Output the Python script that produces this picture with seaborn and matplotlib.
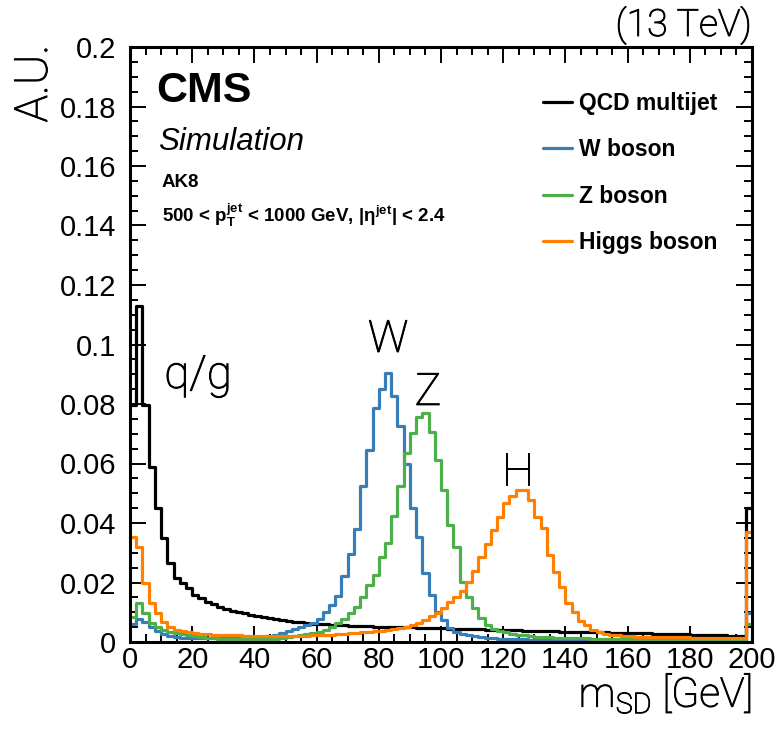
import numpy as np
import pandas as pd
import matplotlib
matplotlib.use("Agg")
import matplotlib.pyplot as plt
import matplotlib.patheffects as pe
import seaborn as sns
from matplotlib.ticker import MultipleLocator, FuncFormatter

# ---------------- data (2 GeV bins, 0..200 GeV) ----------------
bin_edges = list(range(0, 202, 2))

qcd = [0.0797, 0.1129, 0.0797, 0.0589, 0.0449, 0.0351, 0.0265, 0.0215, 0.0197, 0.0180,
       0.0158, 0.0147, 0.0135, 0.0128, 0.0119, 0.0110, 0.0105, 0.0100, 0.0096, 0.0091,
       0.0087, 0.0083, 0.0080, 0.0077, 0.0074, 0.0071, 0.0068, 0.0066, 0.0064, 0.0062,
       0.0060, 0.0059, 0.0058, 0.0057, 0.0056, 0.0055, 0.0054, 0.0053, 0.0053, 0.0052,
       0.0052, 0.0051, 0.0050, 0.0050, 0.0049, 0.0049, 0.0048, 0.0047, 0.0047, 0.0046,
       0.0046, 0.0045, 0.0045, 0.0044, 0.0044, 0.0043, 0.0043, 0.0042, 0.0041, 0.0041,
       0.0040, 0.0039, 0.0039, 0.0038, 0.0038, 0.0037, 0.0037, 0.0036, 0.0036, 0.0035,
       0.0035, 0.0034, 0.0034, 0.0033, 0.0033, 0.0032, 0.0032, 0.0031, 0.0031, 0.0030,
       0.0030, 0.0030, 0.0029, 0.0029, 0.0028, 0.0028, 0.0027, 0.0027, 0.0026, 0.0026,
       0.0025, 0.0025, 0.0024, 0.0023, 0.0023, 0.0022, 0.0021, 0.0020, 0.0019, 0.0450]

w_boson = [0.0060, 0.0078, 0.0068, 0.0050, 0.0036, 0.0027, 0.0021, 0.0017, 0.0015, 0.0014,
           0.0013, 0.0012, 0.0012, 0.0012, 0.0012, 0.0012, 0.0012, 0.0013, 0.0013, 0.0014,
           0.0015, 0.0017, 0.0020, 0.0024, 0.0030, 0.0036, 0.0043, 0.0050, 0.0057, 0.0065,
           0.0077, 0.0100, 0.0124, 0.0155, 0.0222, 0.0295, 0.0379, 0.0524, 0.0645, 0.0785,
           0.0849, 0.0903, 0.0828, 0.0727, 0.0600, 0.0449, 0.0354, 0.0231, 0.0158, 0.0102,
           0.0074, 0.0048, 0.0032, 0.0026, 0.0022, 0.0019, 0.0017, 0.0015, 0.0013, 0.0011,
           0.0010, 0.0010, 0.0009, 0.0009, 0.0008, 0.0008, 0.0007, 0.0007, 0.0007, 0.0006,
           0.0006, 0.0006, 0.0006, 0.0005, 0.0005, 0.0005, 0.0005, 0.0005, 0.0005, 0.0005,
           0.0004, 0.0004, 0.0004, 0.0004, 0.0004, 0.0004, 0.0004, 0.0004, 0.0004, 0.0004,
           0.0004, 0.0004, 0.0004, 0.0004, 0.0004, 0.0004, 0.0004, 0.0004, 0.0004, 0.0098]

z_boson = [0.0085, 0.0132, 0.0097, 0.0063, 0.0051, 0.0040, 0.0035, 0.0030, 0.0026, 0.0022,
           0.0019, 0.0016, 0.0014, 0.0012, 0.0011, 0.0010, 0.0010, 0.0010, 0.0010, 0.0010,
           0.0010, 0.0010, 0.0010, 0.0011, 0.0013, 0.0016, 0.0019, 0.0023, 0.0027, 0.0031,
           0.0035, 0.0042, 0.0051, 0.0063, 0.0076, 0.0096, 0.0119, 0.0152, 0.0192, 0.0225,
           0.0287, 0.0332, 0.0425, 0.0523, 0.0634, 0.0701, 0.0757, 0.0769, 0.0707, 0.0612,
           0.0511, 0.0393, 0.0320, 0.0203, 0.0152, 0.0113, 0.0080, 0.0057, 0.0045, 0.0038,
           0.0032, 0.0028, 0.0025, 0.0022, 0.0020, 0.0018, 0.0017, 0.0016, 0.0015, 0.0014,
           0.0013, 0.0012, 0.0012, 0.0012, 0.0011, 0.0011, 0.0011, 0.0011, 0.0010, 0.0010,
           0.0010, 0.0010, 0.0010, 0.0010, 0.0010, 0.0010, 0.0010, 0.0009, 0.0009, 0.0009,
           0.0009, 0.0009, 0.0009, 0.0009, 0.0009, 0.0009, 0.0009, 0.0009, 0.0009, 0.0060]

higgs = [0.0354, 0.0320, 0.0197, 0.0132, 0.0096, 0.0068, 0.0051, 0.0040, 0.0036, 0.0033,
         0.0030, 0.0028, 0.0026, 0.0025, 0.0024, 0.0023, 0.0022, 0.0022, 0.0021, 0.0021,
         0.0021, 0.0020, 0.0020, 0.0020, 0.0020, 0.0020, 0.0020, 0.0021, 0.0021, 0.0022,
         0.0023, 0.0024, 0.0025, 0.0026, 0.0028, 0.0029, 0.0031, 0.0032, 0.0034, 0.0036,
         0.0038, 0.0040, 0.0043, 0.0046, 0.0051, 0.0058, 0.0065, 0.0075, 0.0086, 0.0098,
         0.0115, 0.0133, 0.0152, 0.0173, 0.0203, 0.0240, 0.0285, 0.0330, 0.0375, 0.0420,
         0.0466, 0.0492, 0.0511, 0.0511, 0.0477, 0.0421, 0.0382, 0.0292, 0.0236, 0.0186,
         0.0130, 0.0102, 0.0071, 0.0057, 0.0040, 0.0032, 0.0027, 0.0024, 0.0022, 0.0020,
         0.0019, 0.0018, 0.0018, 0.0018, 0.0017, 0.0017, 0.0017, 0.0016, 0.0016, 0.0016,
         0.0015, 0.0015, 0.0015, 0.0014, 0.0014, 0.0014, 0.0014, 0.0013, 0.0013, 0.0370]

series_labels = ["QCD multijet", "W boson", "Z boson", "Higgs boson"]
series_colors = ["#000000", "#377eb8", "#4daf4a", "#ff7f00"]
x_ticks = [0, 20, 40, 60, 80, 100, 120, 140, 160, 180, 200]
y_ticks = [0, 0.02, 0.04, 0.06, 0.08, 0.1, 0.12, 0.14, 0.16, 0.18, 0.2]

# ---------------- styling ----------------
sns.set_style("ticks")
plt.rcParams["font.family"] = ["Liberation Sans", "DejaVu Sans"]
plt.rcParams["mathtext.fontset"] = "custom"
plt.rcParams["mathtext.rm"] = "Roboto:light"
plt.rcParams["mathtext.it"] = "Liberation Sans:italic"
plt.rcParams["mathtext.bf"] = "Liberation Sans:bold"
for k in ["text.color", "axes.labelcolor", "xtick.color", "ytick.color", "axes.edgecolor"]:
    plt.rcParams[k] = "black"

THICK = [pe.withStroke(linewidth=0.7, foreground="black")]
LIGHT = dict(family=["Roboto", "DejaVu Sans"], fontweight="light", path_effects=THICK)

W, H = 783, 732
fig = plt.figure(figsize=(W / 100, H / 100), dpi=100)
ax = fig.add_axes([130 / W, 1 - 642 / H, (752 - 130) / W, (642 - 47) / H])

centers = [(bin_edges[i] + bin_edges[i + 1]) / 2 for i in range(len(bin_edges) - 1)]
all_series = [qcd, w_boson, z_boson, higgs]
for vals, lab, col in zip(all_series, series_labels, series_colors):
    df = pd.DataFrame({"m": centers, "w": vals})
    sns.histplot(data=df, x="m", weights="w", bins=bin_edges, element="step",
                 fill=False, color=col, linewidth=2.3, label=lab, ax=ax)

ax.set_xlim(0, 200)
ax.set_ylim(0, 0.2)
ax.set_xticks(x_ticks)
ax.set_yticks(y_ticks)
ax.xaxis.set_minor_locator(MultipleLocator(5))
ax.yaxis.set_minor_locator(MultipleLocator(0.005))
ax.yaxis.set_major_formatter(FuncFormatter(lambda v, p: "%g" % round(v, 3)))
ax.tick_params(which="both", direction="in", top=True, right=True, width=1.4)
ax.tick_params(which="major", length=11.5, labelsize=21)
ax.tick_params(axis="y", which="major", pad=10)
ax.tick_params(axis="x", which="major", pad=3)
ax.tick_params(which="minor", length=5.5)
for s in ax.spines.values():
    s.set_linewidth(2.2)
ax.set_xlabel("")
ax.set_ylabel("")

# axis titles
fig.text(752 / W, 1 - 707 / H, r"m$_{\rm SD}$ [GeV]", ha="right", va="baseline",
         fontsize=29.5, **LIGHT)
fig.text(56 / W, 1 - 45 / H, "A.U.", rotation=90, ha="right", va="top", fontsize=33, **LIGHT)
fig.text(752 / W, 1 - 36 / H, "(13 TeV)", ha="right", va="baseline", fontsize=27, **LIGHT)

# CMS labels
fig.text(156 / W, 1 - 102 / H, "CMS", ha="left", va="baseline", fontsize=31, fontweight="bold")
fig.text(158 / W, 1 - 150 / H, "Simulation", ha="left", va="baseline", fontsize=22.5, style="italic")
fig.text(162 / W, 1 - 187 / H, "AK8", ha="left", va="baseline", fontsize=13.5, fontweight="bold")
fig.text(162 / W, 1 - 222 / H,
         r"500 < $\mathbf{p}_{\mathbf{T}}^{\mathbf{jet}}$ < 1000 GeV, |$\mathbf{\eta}^{\mathbf{jet}}$| < 2.4",
         ha="left", va="baseline", fontsize=13.5, fontweight="bold")

# peak annotations
ax.text(11.0, 0.0854, "q/g", ha="left", va="baseline", fontsize=33, **LIGHT)
ax.text(83, 0.0975, "W", ha="center", va="baseline", fontsize=32, **LIGHT)
ax.text(95.8, 0.0797, "Z", ha="center", va="baseline", fontsize=32, **LIGHT)
ax.text(124.6, 0.0528, "H", ha="center", va="baseline", fontsize=32, **LIGHT)

leg = ax.legend(loc="upper left", bbox_to_anchor=(543 / W, 1 - 92 / H),
                bbox_transform=fig.transFigure, frameon=False, borderpad=0,
                borderaxespad=0, handlelength=1.25, handletextpad=0.3,
                labelspacing=1.02, prop={"weight": "bold", "size": 16.5})
for ln in leg.get_lines():
    ln.set_linewidth(2.3)

fig.savefig("out.png", dpi=100)
